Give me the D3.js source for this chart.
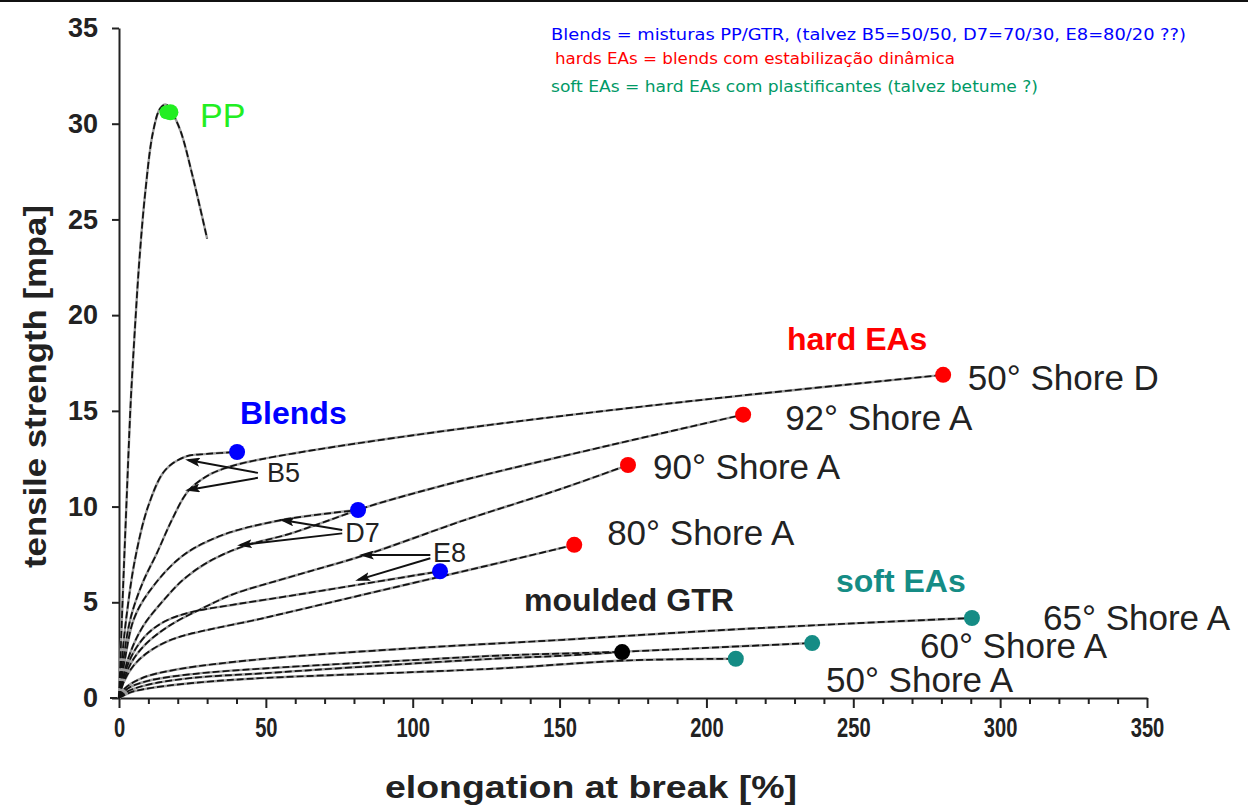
<!DOCTYPE html>
<html lang="pt">
<head>
  <meta charset="UTF-8">
  <title>tensile strength vs elongation</title>
  <script src="https://d3js.org/d3.v7.min.js"></script>
  <style>
    * { margin: 0; padding: 0; box-sizing: border-box; }
    body { background: #fff; font-family: "Liberation Sans", Arial, sans-serif; }
    .curve-base { fill: none; stroke: #9c9c9c; stroke-width: 2.4; }
    .curve-dash { fill: none; stroke: #111; stroke-width: 1.7; stroke-dasharray: 7 3; }
    .lbl { font-size: 35px; fill: #222; }
    .note { font-family: "DejaVu Sans Condensed", "Liberation Sans Narrow", sans-serif; font-size: 16px; }
  </style>
</head>
<body>
  <div id="chart"></div>

  <script>
    // curves: [elongation %, tensile MPa]
    const ppCurve   = [[0,0],[1.2,5],[2.5,10],[4,15.5],[5.5,19.5],[7,23],[9,26.5],[11.5,29.5],[14,30.8],[16,31.0],[18,30.6],[21,29.6],[25,27.3],[30,24]];
    const b5Curve   = [[0,0],[1,2],[2.5,4.2],[5.4,7.2],[9.9,10.0],[15.7,11.9],[22.5,12.6],[30,12.75],[40.2,12.85]];
    const d7Curve   = [[0,0],[2,2],[5,4.1],[10,5.5],[21.4,7.4],[35,8.5],[55.5,9.3],[81.4,9.82]];
    const e8Curve   = [[0,0],[2,1.3],[5,2.4],[10,3.4],[16.2,4.05],[25,4.5],[40,4.9],[60,5.38],[82.7,5.95],[109.3,6.62]];
    const shoreD50  = [[0,0],[1.5,2],[4,4.2],[8,6],[13,7.6],[18,9.3],[23.5,10.8],[30,11.6],[36,12.0],[43,12.3],[66.7,12.96],[126,14.26],[200,15.6],[280.6,16.88]];
    const shoreA92  = [[0,0],[3,2],[8,3.7],[15.7,5.2],[22,6.2],[30.3,7.1],[41.9,7.9],[57.5,8.55],[70,9.2],[84.8,10.0],[117.8,11.4],[160,12.95],[212.5,14.8]];
    const shoreA90  = [[0,0],[1,0.6],[4,1.8],[9,2.8],[17.4,3.8],[28.6,4.7],[38.5,5.4],[60,6.4],[83.8,7.47],[117.8,9.3],[150,10.9],[173.3,12.17]];
    const shoreA80  = [[0,0],[1.5,0.8],[5,1.7],[10,2.4],[18.4,3.08],[50,4.2],[89.9,5.64],[130,7.08],[155,8.0]];
    const shoreA65  = [[0,0],[2,0.5],[8,1.05],[20,1.5],[50,2.05],[100,2.6],[150,3.03],[200,3.5],[250,3.9],[290.4,4.18]];
    const shoreA60  = [[0,0],[3,0.5],[10,0.9],[25,1.25],[50,1.55],[100,1.98],[130,2.22],[171.5,2.42],[200,2.62],[236,2.87]];
    const gtrCurve  = [[0,0],[3,0.35],[10,0.7],[25,1.05],[50,1.3],[100,1.8],[130,2.07],[150,2.2],[171.3,2.4]];
    const shoreA50  = [[0,0],[4,0.3],[12,0.55],[30,0.85],[50,1.05],[100,1.35],[130,1.55],[173,1.96],[210,2.05]];

    const allCurves = [ppCurve, b5Curve, d7Curve, e8Curve, shoreD50, shoreA92, shoreA90, shoreA80,
                       shoreA65, shoreA60, gtrCurve, shoreA50];

    // end points
    const ppDot     = [[17.5,30.6]];
    const blendDots = [[40.2,12.85],[81.4,9.82],[109.3,6.62]];
    const hardDots  = [[280.6,16.88],[212.5,14.8],[173.3,12.17],[155,8.0]];
    const softDots  = [[290.4,4.18],[236,2.87],[210,2.05]];
    const gtrDot    = [[171.3,2.4]];

    // text labels: [text, x, y] (left edge, baseline)
    const shoreLabels = [["50° Shore D",289,16.1],["92° Shore A",226.8,14.0],["90° Shore A",181.8,11.44],["80° Shore A",166.2,8.0],
                         ["65° Shore A",314.6,3.55],["60° Shore A",272.7,2.09],["50° Shore A",240.7,0.31]];
    const blendNames  = [["B5",50.4,11.29],["D7",77,8.15],["E8",106.9,7.1]];
    // arrows: [fromX, fromY, toX, toY]
    const arrows = [[47.3,11.76,23.5,12.43],[47.3,11.5,23.5,10.87],
                    [76,8.78,55.5,9.3],[76,8.6,41.2,7.99],
                    [106,7.47,82.7,7.47],[106,7.3,81.4,6.17]];

    const xTicks = [0,50,100,150,200,250,300,350];
    const xMinor = d3.range(0,351,10).filter(v => v % 50 !== 0);
    const yTicks = [0,5,10,15,20,25,30,35];

    const W = 1248, H = 805;
    const x = d3.scaleLinear().domain([0,350]).range([119,1147]);
    const y = d3.scaleLinear().domain([0,35]).range([698,28]);

    const svg = d3.select("#chart").append("svg")
      .attr("width", W).attr("height", H);

    svg.append("defs").append("marker")
      .attr("id","arr").attr("viewBox","0 0 15 9")
      .attr("refX",12).attr("refY",4.5)
      .attr("markerWidth",15).attr("markerHeight",9)
      .attr("markerUnits","userSpaceOnUse")
      .attr("orient","auto")
      .append("path").attr("d","M15,4.5 L0,0 L3,4.5 L0,9 Z")
      .attr("fill","#111");

    // top frame line
    svg.append("line").attr("x1",0).attr("x2",W).attr("y1",1).attr("y2",1)
      .attr("stroke","#111").attr("stroke-width",2);

    // axes
    const yAxis = svg.append("g").attr("transform", `translate(${x(0)},0)`)
      .call(d3.axisLeft(y).tickValues(yTicks).tickSize(7).tickSizeOuter(0).tickPadding(14));
    yAxis.selectAll("text").style("font-size","27px").style("font-weight","bold").attr("fill","#222");

    const xAxis = svg.append("g").attr("transform", `translate(0,${y(0)})`)
      .call(d3.axisBottom(x).tickValues(xTicks).tickSize(10).tickSizeOuter(0).tickPadding(9));
    xAxis.selectAll("text").style("font-size","28px").style("font-weight","bold").attr("fill","#222")
      .attr("transform","scale(0.72,1)");
    svg.append("g").attr("transform", `translate(0,${y(0)})`)
      .call(d3.axisBottom(x).tickValues(xMinor).tickSize(6).tickFormat(""))
      .select(".domain").remove();
    svg.append("line").attr("x1",110).attr("x2",x(0)).attr("y1",y(0)).attr("y2",y(0))
      .attr("stroke","#222").attr("stroke-width",2);
    svg.selectAll(".domain, .tick line").attr("stroke","#222").attr("stroke-width",2);

    svg.append("text")
      .attr("transform", `translate(46,${(205+568)/2}) rotate(-90)`)
      .attr("text-anchor","middle")
      .attr("textLength",363).attr("lengthAdjust","spacingAndGlyphs")
      .style("font-size","31px").style("font-weight","bold").attr("fill","#222")
      .text("tensile strength [mpa]");
    svg.append("text")
      .attr("x",(385+797)/2).attr("y",798)
      .attr("text-anchor","middle")
      .attr("textLength",412).attr("lengthAdjust","spacingAndGlyphs")
      .style("font-size","31px").style("font-weight","bold").attr("fill","#222")
      .text("elongation at break [%]");

    // curves
    const line = d3.line().x(d => x(d[0])).y(d => y(d[1])).curve(d3.curveCatmullRom.alpha(0.5));
    const cg = svg.append("g");
    cg.selectAll(".curve-base").data(allCurves).enter().append("path")
      .attr("class","curve-base").attr("d", line);
    cg.selectAll(".curve-dash").data(allCurves).enter().append("path")
      .attr("class","curve-dash").attr("d", line);

    // arrows
    svg.selectAll(".arrow").data(arrows).enter().append("line")
      .attr("class","arrow")
      .attr("x1", d => x(d[0])).attr("y1", d => y(d[1]))
      .attr("x2", d => x(d[2])).attr("y2", d => y(d[3]))
      .attr("stroke","#111").attr("stroke-width",2)
      .attr("marker-end","url(#arr)");

    // dots
    const dots = (data, color) => svg.append("g").selectAll("circle").data(data).enter().append("circle")
      .attr("cx", d => x(d[0])).attr("cy", d => y(d[1])).attr("r", 8).attr("fill", color);
    dots(ppDot, "#22ee22");
    svg.append("circle").attr("cx", x(ppDot[0][0]) - 4).attr("cy", y(ppDot[0][1])).attr("r", 7).attr("fill", "#22ee22");
    dots(blendDots, "#0000ff");
    dots(hardDots, "#ff0000");
    dots(softDots, "#158c85");
    dots(gtrDot, "#000");

    // labels
    svg.selectAll(".lbl").data(shoreLabels).enter().append("text")
      .attr("class","lbl").attr("x", d => x(d[1])).attr("y", d => y(d[2])).text(d => d[0]);
    svg.selectAll(".bl").data(blendNames).enter().append("text")
      .attr("x", d => x(d[1])).attr("y", d => y(d[2]))
      .style("font-size","27px").attr("fill","#222").text(d => d[0]);

    const grpLabel = (t, gx, gy, color, bold) => svg.append("text")
      .attr("x", x(gx)).attr("y", y(gy)).attr("fill", color)
      .style("font-size", bold ? "32px" : "34px").style("font-weight", bold ? "bold" : "normal")
      .text(t);
    grpLabel("PP", 27.6, 29.83, "#22ee22", false);
    grpLabel("Blends", 41.2, 14.3, "#0000ff", true);
    grpLabel("hard EAs", 227.4, 18.2, "#ff0000", true);
    grpLabel("soft EAs", 244.1, 5.54, "#158c85", true);
    grpLabel("moulded GTR", 137.9, 4.55, "#222", true);

    // notes at the top
    const notes = [
      ["Blends = misturas PP/GTR, (talvez B5=50/50, D7=70/30, E8=80/20 ??)", 551, 40, 635, "#0000ff"],
      ["hards EAs = blends com estabilização dinâmica", 555, 64, 400, "#ff0000"],
      ["soft EAs = hard EAs com plastificantes (talvez betume ?)", 551, 92, 487, "#009966"]
    ];
    svg.selectAll(".note").data(notes).enter().append("text")
      .attr("class","note")
      .attr("x", d => d[1]).attr("y", d => d[2])
      .attr("textLength", d => d[3]).attr("lengthAdjust","spacingAndGlyphs")
      .attr("fill", d => d[4]).text(d => d[0]);
  </script>
</body>
</html>
